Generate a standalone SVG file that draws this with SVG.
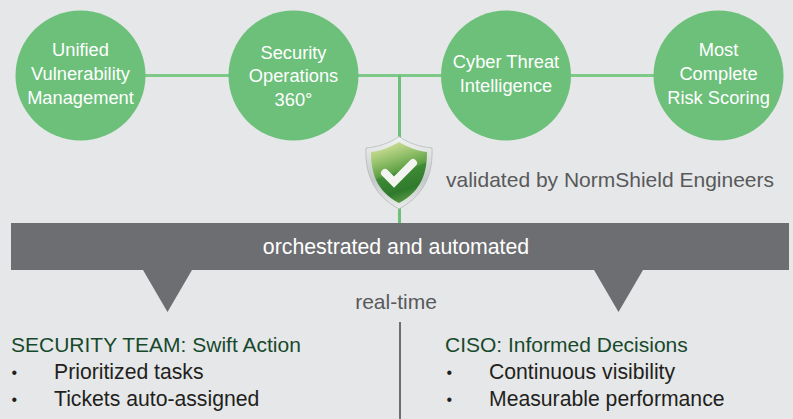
<svg xmlns="http://www.w3.org/2000/svg" width="793" height="419" viewBox="0 0 793 419">
<defs>
<linearGradient id="rim" x1="0" y1="0" x2="0" y2="1"><stop offset="0" stop-color="#f2f4f2"/><stop offset="0.6" stop-color="#c3c9c9"/><stop offset="1" stop-color="#e9ecea"/></linearGradient>
<linearGradient id="shield" x1="0.3" y1="0" x2="0.6" y2="1"><stop offset="0" stop-color="#d4e299"/><stop offset="0.3" stop-color="#8cbc66"/><stop offset="0.48" stop-color="#5fa044"/><stop offset="0.52" stop-color="#3f8a35"/><stop offset="0.8" stop-color="#2f7a2d"/><stop offset="1" stop-color="#5b9c45"/></linearGradient>
</defs>
<style>
text{font-family:"Liberation Sans",Arial,sans-serif}
.c{fill:#6cc07a}
.n{fill:#fff;font-size:18.300px;text-anchor:middle}
.g{fill:#58595b;font-size:21px}
.h{fill:#17492c;font-size:21px}
.b{fill:#231f20;font-size:21.200px}
.d{fill:#231f20;font-size:16px}
.link{stroke:#7cc988;stroke-width:3;fill:none}
</style>
<rect width="793" height="419" fill="#e6e7e8"/>
<g id="connectors">
<path class="link" d="M145 75.500H229M358 75.500H441M571 75.500H654"/>
<path d="M399.500 75V223" stroke="#6cc07a" stroke-width="3" fill="none"/>
<path d="M400 322V419" stroke="#6d6e71" stroke-width="2" fill="none"/>
</g>
<g id="node-unified"><circle class="c" cx="80.500" cy="75.500" r="65"/><text class="n"><tspan x="80.500" y="56">Unified</tspan><tspan x="80.500" y="80">Vulnerability</tspan><tspan x="80.500" y="104">Management</tspan></text></g>
<g id="node-secops"><circle class="c" cx="293.500" cy="75.500" r="65"/><text class="n"><tspan x="293.500" y="59">Security</tspan><tspan x="293.500" y="82">Operations</tspan><tspan x="293.500" y="106">360°</tspan></text></g>
<g id="node-threat"><circle class="c" cx="506" cy="75.500" r="65"/><text class="n"><tspan x="506" y="68">Cyber Threat</tspan><tspan x="506" y="92">Intelligence</tspan></text></g>
<g id="node-risk"><circle class="c" cx="718.500" cy="75.500" r="65"/><text class="n"><tspan x="718.500" y="56">Most</tspan><tspan x="718.500" y="80">Complete</tspan><tspan x="718.500" y="104">Risk Scoring</tspan></text></g>
<g id="shield-badge">
<path d="M399 136.500C390 143 378 147 366 148C365 170 371 194 399 209C427 194 433 170 432 148C420 147 408 143 399 136.500Z" fill="url(#rim)" stroke="#aeb4b4" stroke-width="0.700"/>
<path d="M399 142C391 147 381 151 371 152C371 172 376 191 399 203C422 191 427 172 427 152C417 151 407 147 399 142Z" fill="url(#shield)"/>
<path d="M385 173L394 182L413 163" fill="none" stroke="#f2f4f0" stroke-width="8" stroke-linecap="round"/>
</g>
<g id="label-validated"><text class="g" x="446" y="187">validated by NormShield Engineers</text></g>
<g id="bar"><path fill="#6d6e71" d="M11 223H789V270H643L618.500 312L594 270H192L167.500 312L143 270H11Z" id="bar-shape"/><text x="396" y="254" fill="#fff" font-size="21.300px" text-anchor="middle">orchestrated and automated</text></g>
<g id="label-realtime"><text class="g" x="396" y="309" text-anchor="middle">real-time</text></g>
<g id="panel-team">
<text class="h" x="11" y="352">SECURITY TEAM: Swift Action</text>
<text class="d" x="11.400" y="377.500">•</text><text class="d" x="11.400" y="404.500">•</text>
<text class="b"><tspan x="54" y="379">Prioritized tasks</tspan><tspan x="54" y="406">Tickets auto-assigned</tspan></text>
</g>
<g id="panel-ciso">
<text class="h" x="445" y="352">CISO: Informed Decisions</text>
<text class="d" x="446.500" y="377.500">•</text><text class="d" x="446.500" y="404.500">•</text>
<text class="b"><tspan x="489" y="379">Continuous visibility</tspan><tspan x="489" y="406">Measurable performance</tspan></text>
</g>
</svg>
